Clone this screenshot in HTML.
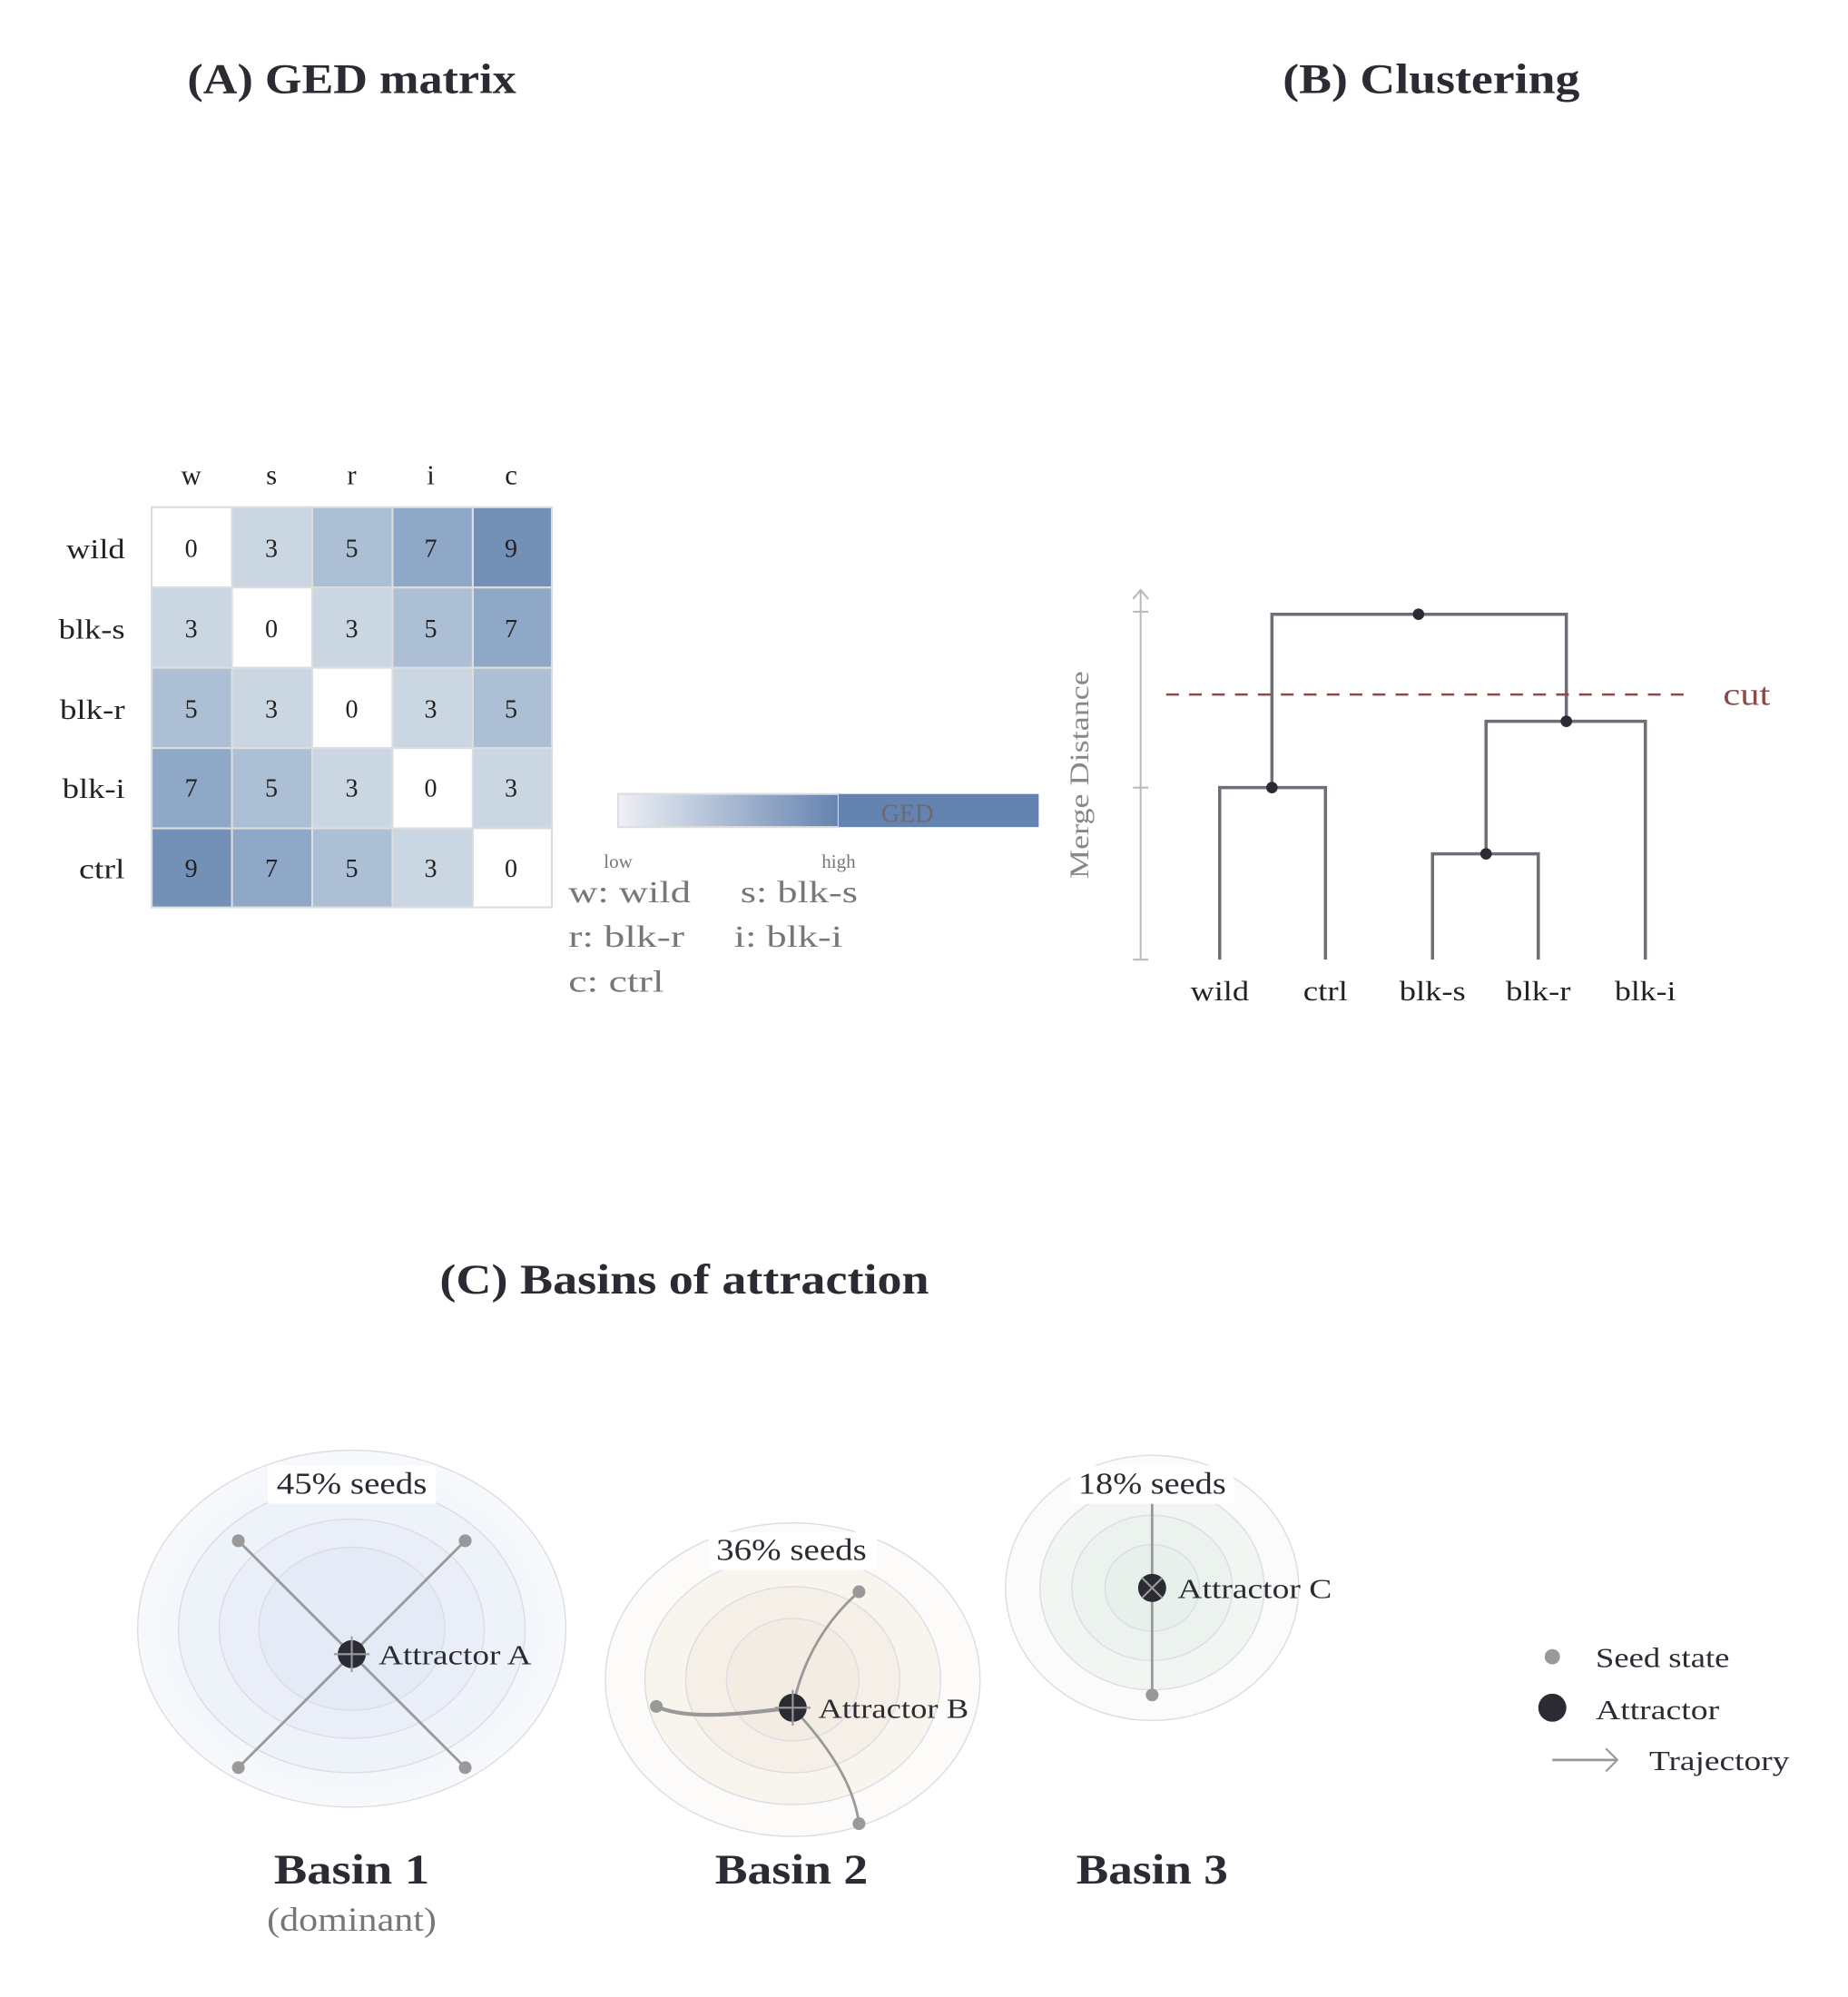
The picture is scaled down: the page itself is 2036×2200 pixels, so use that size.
<!DOCTYPE html>
<html><head><meta charset="utf-8"><style>html,body{margin:0;padding:0;background:#fff}svg{display:block}</style></head>
<body>
<svg width="2036" height="2200" viewBox="0 0 1450 1567" preserveAspectRatio="none" xmlns="http://www.w3.org/2000/svg" font-family="Liberation Serif, serif">
<defs>
<linearGradient id="g" x1="0" x2="1"><stop offset="0" stop-color="#eef1f6"/><stop offset="1" stop-color="#6583b0"/></linearGradient>
<radialGradient id="b1"><stop offset="0" stop-color="#e3e9f5"/><stop offset="1" stop-color="#f7f9fc"/></radialGradient>
</defs>
<g font-weight="bold" fill="#2b2b33" font-size="33" text-anchor="middle" lengthAdjust="spacingAndGlyphs">
<text x="276" y="73" textLength="258" lengthAdjust="spacingAndGlyphs">(A) GED matrix</text>
<text x="1123" y="73" textLength="233" lengthAdjust="spacingAndGlyphs">(B) Clustering</text>
<text x="537" y="1015" textLength="384" lengthAdjust="spacingAndGlyphs">(C) Basins of attraction</text>
</g>
<g font-size="22" fill="#222" text-anchor="middle">
<text x="150" y="380">w</text><text x="213" y="380">s</text><text x="276" y="380">r</text><text x="338" y="380">i</text><text x="401" y="380">c</text>
</g>
<g font-size="22" fill="#222" text-anchor="end">
<text x="98" y="438" textLength="46" lengthAdjust="spacingAndGlyphs">wild</text><text x="98" y="501" textLength="52" lengthAdjust="spacingAndGlyphs">blk-s</text><text x="98" y="564" textLength="51" lengthAdjust="spacingAndGlyphs">blk-r</text><text x="98" y="626" textLength="49" lengthAdjust="spacingAndGlyphs">blk-i</text><text x="98" y="689" textLength="36" lengthAdjust="spacingAndGlyphs">ctrl</text>
</g>
<g stroke="#ddd" stroke-width="1.5">
<rect x="119" y="398" width="63" height="63" fill="#fff"/><rect x="182" y="398" width="63" height="63" fill="#cbd6e3"/><rect x="245" y="398" width="63" height="63" fill="#adbfd5"/><rect x="308" y="398" width="63" height="63" fill="#8fa8c7"/><rect x="371" y="398" width="62" height="63" fill="#7390b6"/>
<rect x="119" y="461" width="63" height="63" fill="#cbd6e3"/><rect x="182" y="461" width="63" height="63" fill="#fff"/><rect x="245" y="461" width="63" height="63" fill="#cbd6e3"/><rect x="308" y="461" width="63" height="63" fill="#adbfd5"/><rect x="371" y="461" width="62" height="63" fill="#8fa8c7"/>
<rect x="119" y="524" width="63" height="63" fill="#adbfd5"/><rect x="182" y="524" width="63" height="63" fill="#cbd6e3"/><rect x="245" y="524" width="63" height="63" fill="#fff"/><rect x="308" y="524" width="63" height="63" fill="#cbd6e3"/><rect x="371" y="524" width="62" height="63" fill="#adbfd5"/>
<rect x="119" y="587" width="63" height="63" fill="#8fa8c7"/><rect x="182" y="587" width="63" height="63" fill="#adbfd5"/><rect x="245" y="587" width="63" height="63" fill="#cbd6e3"/><rect x="308" y="587" width="63" height="63" fill="#fff"/><rect x="371" y="587" width="62" height="63" fill="#cbd6e3"/>
<rect x="119" y="650" width="63" height="62" fill="#7390b6"/><rect x="182" y="650" width="63" height="62" fill="#8fa8c7"/><rect x="245" y="650" width="63" height="62" fill="#adbfd5"/><rect x="308" y="650" width="63" height="62" fill="#cbd6e3"/><rect x="371" y="650" width="62" height="62" fill="#fff"/>
</g>
<g font-size="20" fill="#222" text-anchor="middle">
<text x="150" y="437">0</text><text x="213" y="437">3</text><text x="276" y="437">5</text><text x="338" y="437">7</text><text x="401" y="437">9</text>
<text x="150" y="500">3</text><text x="213" y="500">0</text><text x="276" y="500">3</text><text x="338" y="500">5</text><text x="401" y="500">7</text>
<text x="150" y="563">5</text><text x="213" y="563">3</text><text x="276" y="563">0</text><text x="338" y="563">3</text><text x="401" y="563">5</text>
<text x="150" y="625">7</text><text x="213" y="625">5</text><text x="276" y="625">3</text><text x="338" y="625">0</text><text x="401" y="625">3</text>
<text x="150" y="688">9</text><text x="213" y="688">7</text><text x="276" y="688">5</text><text x="338" y="688">3</text><text x="401" y="688">0</text>
</g>
<rect x="485" y="623" width="173" height="26" fill="url(#g)" stroke="#ddd" stroke-width="1.5"/>
<rect x="658" y="623" width="157" height="26" fill="#6583b0"/>
<text x="712" y="645" font-size="20" fill="#6a6a72" text-anchor="middle">GED</text>
<text x="485" y="681" font-size="15" fill="#777" text-anchor="middle">low</text>
<text x="658" y="681" font-size="15" fill="#777" text-anchor="middle">high</text>
<g font-size="24" fill="#777" style="white-space:pre">
<text x="446" y="708" textLength="96" lengthAdjust="spacingAndGlyphs">w:  wild</text><text x="581" y="708" textLength="92" lengthAdjust="spacingAndGlyphs">s:  blk-s</text>
<text x="446" y="743" textLength="91" lengthAdjust="spacingAndGlyphs">r:  blk-r</text><text x="576" y="743" textLength="85" lengthAdjust="spacingAndGlyphs">i:  blk-i</text>
<text x="446" y="778" textLength="75" lengthAdjust="spacingAndGlyphs">c:  ctrl</text>
</g>
<g stroke="#bbb" stroke-width="1.5" fill="none">
<line x1="895" y1="463" x2="895" y2="753"/><path d="M889 470 L895 463 L901 470"/>
<line x1="889" y1="480" x2="901" y2="480"/><line x1="889" y1="618" x2="901" y2="618"/><line x1="889" y1="753" x2="901" y2="753"/>
</g>
<text transform="translate(854,608) rotate(-90)" font-size="21" fill="#888" text-anchor="middle" textLength="163" lengthAdjust="spacingAndGlyphs">Merge Distance</text>
<g stroke="#6e6e78" stroke-width="2.5" fill="none">
<path d="M957 753 V618 H1040 V753"/>
<path d="M1124 753 V670 H1207 V753"/>
<path d="M1166 670 V566 H1291 V753"/>
<path d="M998 618 V482 H1229 V566"/>
</g>
<line x1="915" y1="545" x2="1325" y2="545" stroke="#8b4a4a" stroke-width="1.8" stroke-dasharray="10,8"/>
<text x="1352" y="553" font-size="25" fill="#8b4a4a" textLength="37" lengthAdjust="spacingAndGlyphs">cut</text>
<g fill="#2b2b33"><circle cx="998" cy="618" r="4.5"/><circle cx="1166" cy="670" r="4.5"/><circle cx="1229" cy="566" r="4.5"/><circle cx="1113" cy="482" r="4.5"/></g>
<g font-size="22" fill="#222" text-anchor="middle">
<text x="957" y="785" textLength="46" lengthAdjust="spacingAndGlyphs">wild</text><text x="1040" y="785" textLength="35" lengthAdjust="spacingAndGlyphs">ctrl</text><text x="1124" y="785" textLength="52" lengthAdjust="spacingAndGlyphs">blk-s</text><text x="1207" y="785" textLength="51" lengthAdjust="spacingAndGlyphs">blk-r</text><text x="1291" y="785" textLength="48" lengthAdjust="spacingAndGlyphs">blk-i</text>
</g>
<g stroke="#dcdde2" stroke-width="1">
<ellipse cx="276" cy="1278" rx="168" ry="140" fill="url(#b1)"/>
<ellipse cx="276" cy="1278" rx="136" ry="113" fill="#eef2f9"/>
<ellipse cx="276" cy="1278" rx="104" ry="86" fill="#e9eef8"/>
<ellipse cx="276" cy="1278" rx="73" ry="64" fill="#e4eaf6"/>
<ellipse cx="622" cy="1318" rx="147" ry="123" fill="#fcfbf9"/>
<ellipse cx="622" cy="1318" rx="116" ry="98" fill="#f8f4ee"/>
<ellipse cx="622" cy="1318" rx="84" ry="73" fill="#f5efe7"/>
<ellipse cx="622" cy="1318" rx="52" ry="48" fill="#f3ece2"/>
<ellipse cx="904" cy="1246" rx="115" ry="104" fill="#fafbfa"/>
<ellipse cx="904" cy="1246" rx="88" ry="80" fill="#f1f6f2"/>
<ellipse cx="904" cy="1246" rx="63" ry="57" fill="#ecf3ee"/>
<ellipse cx="904" cy="1246" rx="37" ry="34" fill="#e7f0ea"/>
</g>
<g stroke="#999" stroke-width="2" fill="none">
<line x1="187" y1="1209" x2="365" y2="1387"/><line x1="365" y1="1209" x2="187" y2="1387"/>
<path d="M674 1249 C650 1270 630 1300 622 1340"/>
<path d="M515 1339 C540 1350 580 1345 622 1340" stroke-width="3"/>
<path d="M622 1340 C650 1370 670 1400 674 1431"/>
<line x1="904" y1="1180" x2="904" y2="1330"/>
</g>
<g fill="#999"><circle cx="187" cy="1209" r="5"/><circle cx="365" cy="1209" r="5"/><circle cx="187" cy="1387" r="5"/><circle cx="365" cy="1387" r="5"/>
<circle cx="674" cy="1249" r="5"/><circle cx="515" cy="1339" r="5"/><circle cx="674" cy="1431" r="5"/><circle cx="904" cy="1330" r="5"/></g>
<g fill="#2b2b33"><circle cx="276" cy="1298" r="11"/><circle cx="622" cy="1340" r="11"/><circle cx="904" cy="1246" r="11"/></g>
<g stroke="#999" stroke-width="1.5"><line x1="262" y1="1298" x2="290" y2="1298"/><line x1="276" y1="1284" x2="276" y2="1312"/><line x1="608" y1="1340" x2="636" y2="1340"/><line x1="622" y1="1326" x2="622" y2="1354"/><line x1="896" y1="1238" x2="912" y2="1254"/><line x1="912" y1="1238" x2="896" y2="1254"/></g>
<g fill="#fff"><rect x="210" y="1150" width="132" height="30"/><rect x="556" y="1202" width="132" height="30"/><rect x="840" y="1150" width="128" height="30"/></g>
<g font-size="24" fill="#2b2b33" text-anchor="middle">
<text x="276" y="1172" textLength="118" lengthAdjust="spacingAndGlyphs">45% seeds</text><text x="621" y="1224" textLength="118" lengthAdjust="spacingAndGlyphs">36% seeds</text><text x="904" y="1172" textLength="116" lengthAdjust="spacingAndGlyphs">18% seeds</text>
</g>
<g font-size="22" fill="#2b2b33">
<text x="297" y="1306" textLength="120" lengthAdjust="spacingAndGlyphs">Attractor A</text><text x="642" y="1348" textLength="118" lengthAdjust="spacingAndGlyphs">Attractor B</text><text x="924" y="1254" textLength="121" lengthAdjust="spacingAndGlyphs">Attractor C</text>
</g>
<g font-size="33" font-weight="bold" fill="#2b2b33" text-anchor="middle">
<text x="276" y="1478" textLength="122" lengthAdjust="spacingAndGlyphs">Basin 1</text><text x="621" y="1478" textLength="120" lengthAdjust="spacingAndGlyphs">Basin 2</text><text x="904" y="1478" textLength="119" lengthAdjust="spacingAndGlyphs">Basin 3</text>
</g>
<text x="276" y="1515" font-size="26" fill="#777" text-anchor="middle" textLength="133" lengthAdjust="spacingAndGlyphs">(dominant)</text>
<circle cx="1218" cy="1300" r="6" fill="#999"/>
<circle cx="1218" cy="1340" r="11" fill="#2b2b33"/>
<line x1="1218" y1="1381" x2="1268" y2="1381" stroke="#999" stroke-width="2"/>
<path d="M1260 1372 L1269 1381 L1260 1390" stroke="#999" stroke-width="1.5" fill="none"/>
<g font-size="22" fill="#2b2b33">
<text x="1252" y="1308" textLength="105" lengthAdjust="spacingAndGlyphs">Seed state</text><text x="1252" y="1349" textLength="97" lengthAdjust="spacingAndGlyphs">Attractor</text><text x="1294" y="1389" textLength="110" lengthAdjust="spacingAndGlyphs">Trajectory</text>
</g>
</svg>
</body></html>
